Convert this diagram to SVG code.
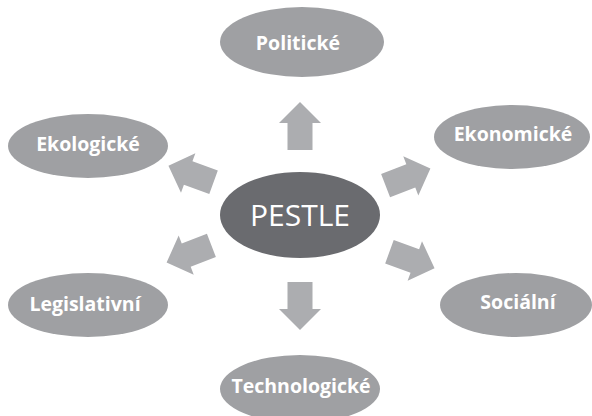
<svg xmlns="http://www.w3.org/2000/svg" width="592" height="416" viewBox="0 0 592 416">
<defs>
<style>
.node{fill:#9fa0a3}
.center{fill:#6a6b6f}
.lbl{font-family:"Open Sans","Liberation Sans",sans-serif;font-weight:bold;font-size:19.5px;fill:#ffffff;text-anchor:middle}
.big{font-family:"Open Sans","Liberation Sans",sans-serif;font-size:30px;fill:#ffffff;text-anchor:middle}
.arr{fill:#acadb0}
</style>
<path id="arrow" d="M-24,-12.5 L3,-12.5 L3,-21 L24,0 L3,21 L3,12.5 L-24,12.5 Z"/>
</defs>
<rect width="592" height="416" fill="#ffffff"/>
<g id="connectors" class="arr">
<use href="#arrow" transform="translate(300,126) rotate(-90)"/>
<use href="#arrow" transform="translate(300,306) rotate(90)"/>
<use href="#arrow" transform="translate(191,174) rotate(200)"/>
<use href="#arrow" transform="translate(408,177) rotate(-21)"/>
<use href="#arrow" transform="translate(189,254) rotate(159)"/>
<use href="#arrow" transform="translate(412,260) rotate(20)"/>
</g>
<g id="pestle">
<ellipse class="center" cx="300" cy="215" rx="80" ry="43"/>
<text class="big" x="300" y="226">PESTLE</text>
</g>
<g id="politicke">
<ellipse class="node" cx="302" cy="42" rx="82" ry="35"/>
<text class="lbl" x="298" y="50">Politické</text>
</g>
<g id="ekonomicke">
<ellipse class="node" cx="512" cy="137" rx="78" ry="32"/>
<text class="lbl" x="513" y="141">Ekonomické</text>
</g>
<g id="socialni">
<ellipse class="node" cx="516" cy="305" rx="76" ry="32"/>
<text class="lbl" x="518" y="309">Sociální</text>
</g>
<g id="technologicke">
<ellipse class="node" cx="300" cy="389" rx="80" ry="34"/>
<text class="lbl" x="301" y="393">Technologické</text>
</g>
<g id="legislativni">
<ellipse class="node" cx="88" cy="305" rx="80" ry="32"/>
<text class="lbl" x="85" y="311">Legislativní</text>
</g>
<g id="ekologicke">
<ellipse class="node" cx="88" cy="146" rx="80" ry="32"/>
<text class="lbl" x="88" y="151">Ekologické</text>
</g>
</svg>
